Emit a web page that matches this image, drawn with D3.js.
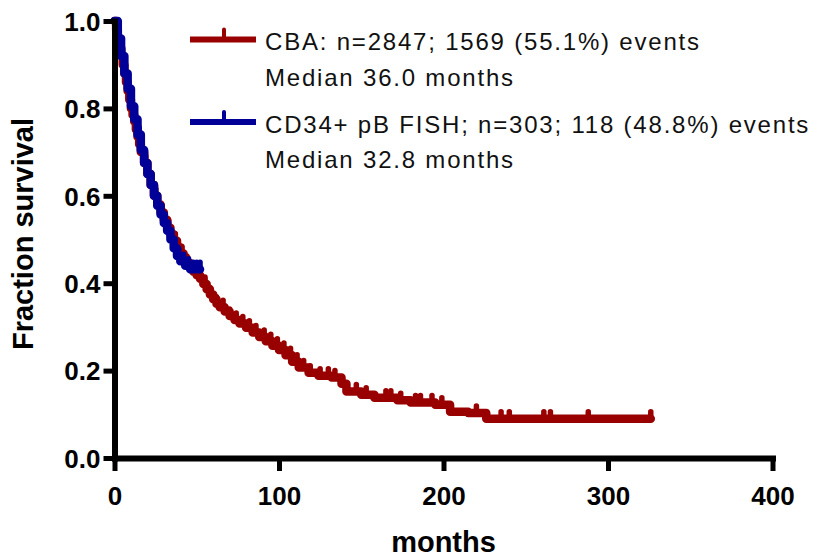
<!DOCTYPE html>
<html>
<head>
<meta charset="utf-8">
<script src="https://cdn.jsdelivr.net/npm/d3@7"></script>
<style>
  body { margin: 0; background: #fff; }
  text { font-family: Arial, "Liberation Sans", sans-serif; }
</style>
</head>
<body>
<svg width="818" height="560"></svg>
<script>
// CBA Kaplan-Meier curve (months, fraction surviving)
var cbaMonths = [0, 1, 2, 3, 4, 5, 6, 7, 8, 9, 10, 11, 12, 13, 14, 15, 16, 18, 20, 22, 24, 26, 28, 30, 32, 34, 36, 38, 40, 42, 44, 46, 48, 50, 52, 54, 56, 58, 60, 62, 64, 67, 70, 73, 76, 80, 84, 88, 92, 96, 100, 104, 108, 112, 118, 124, 132, 138, 141, 150, 158, 172, 180, 195, 204, 215, 226, 326];
var cbaSurv = [1.0, 0.98, 0.96, 0.94, 0.92, 0.9, 0.88, 0.86, 0.84, 0.82, 0.8, 0.785, 0.77, 0.752, 0.735, 0.718, 0.7, 0.675, 0.65, 0.625, 0.6, 0.58, 0.562, 0.545, 0.527, 0.512, 0.497, 0.482, 0.468, 0.456, 0.446, 0.436, 0.426, 0.418, 0.41, 0.398, 0.386, 0.374, 0.363, 0.353, 0.345, 0.335, 0.325, 0.316, 0.308, 0.298, 0.287, 0.277, 0.267, 0.257, 0.247, 0.235, 0.22, 0.207, 0.195, 0.188, 0.184, 0.17, 0.152, 0.145, 0.138, 0.132, 0.127, 0.122, 0.106, 0.103, 0.09, 0.09];
var cbaCensored = [3, 6, 9, 12, 15, 19, 22, 25, 29, 33, 37, 41, 44, 48, 51, 55, 58, 62, 66, 70, 74, 78, 82, 86, 91, 95, 99, 103, 107, 111, 115, 119, 125, 130, 134, 147, 153, 165, 168, 174, 183, 186, 193, 199, 204, 220, 226, 235, 240, 261, 265, 288, 326];

// CD34+ pB FISH curve
var fishMonths = [0, 2, 4, 6, 8, 10, 12, 14, 16, 18, 20, 22, 24, 26, 28, 30, 32, 34, 36, 38, 40, 43, 46, 52];
var fishSurv = [1.0, 0.96, 0.92, 0.88, 0.845, 0.805, 0.775, 0.74, 0.705, 0.675, 0.65, 0.625, 0.6, 0.577, 0.557, 0.538, 0.52, 0.5, 0.48, 0.462, 0.45, 0.44, 0.432, 0.432];
var fishCensored = [5, 10, 15, 20, 25, 30, 36, 39, 42, 45, 48, 50, 52];

var legendLabels = [
  ['CBA: n=2847; 1569 (55.1%) events', 'Median 36.0 months'],
  ['CD34+ pB FISH; n=303; 118 (48.8%) events', 'Median 32.8 months']
];
var xTicks = [0, 100, 200, 300, 400];
var yTicks = [0.0, 0.2, 0.4, 0.6, 0.8, 1.0];

var red = '#990000';
var blue = '#000099';

var svg = d3.select('svg');
svg.append('rect').attr('width', 818).attr('height', 560).attr('fill', '#fff');

var x = d3.scaleLinear().domain([0, 400]).range([114.5, 772.5]);
var y = d3.scaleLinear().domain([0, 1]).range([458, 21]);

var cba = cbaMonths.map((m, i) => ({ m: m, s: cbaSurv[i] }));
var fish = fishMonths.map((m, i) => ({ m: m, s: fishSurv[i] }));

var line = d3.line()
  .x(d => x(d.m))
  .y(d => y(d.s))
  .curve(d3.curveStepAfter);

function survAt(data, t) {
  var s = data[0].s;
  for (var p of data) { if (p.m <= t) s = p.s; }
  return s;
}

function drawCurve(data, censored, color) {
  var g = svg.append('g');
  g.append('path')
    .datum(data)
    .attr('d', line)
    .attr('fill', 'none')
    .attr('stroke', color)
    .attr('stroke-width', 8.5)
    .attr('stroke-linejoin', 'round')
    .attr('stroke-linecap', 'round');
  g.selectAll('line')
    .data(censored)
    .enter()
    .append('line')
      .attr('x1', d => x(d))
      .attr('x2', d => x(d))
      .attr('y1', d => y(survAt(data, d)))
      .attr('y2', d => y(survAt(data, d)) - 7)
      .attr('stroke', color)
      .attr('stroke-width', 5.5)
      .attr('stroke-linecap', 'round');
}

drawCurve(cba, cbaCensored, red);
drawCurve(fish, fishCensored, blue);

// axes
var xAxis = d3.axisBottom(x).tickValues(xTicks).tickSize(13).tickSizeOuter(0).tickFormat(d3.format('d'));
var yAxis = d3.axisLeft(y).tickValues(yTicks).tickSize(11).tickSizeOuter(0).tickFormat(d3.format('.1f'));

var gx = svg.append('g').attr('transform', 'translate(0,458)').call(xAxis);
var gy = svg.append('g').attr('transform', 'translate(114.5,0)').call(yAxis);

[gx, gy].forEach(g => {
  g.select('.domain').attr('stroke', '#000').attr('stroke-width', 6).attr('stroke-linecap', 'square');
  g.selectAll('.tick line').attr('stroke', '#000').attr('stroke-width', 5);
  g.selectAll('.tick text')
    .attr('fill', '#000')
    .style('font-size', '26px')
    .style('font-weight', 'bold')
    .style('font-family', 'Arial, "Liberation Sans", sans-serif');
});
gx.selectAll('.tick text').attr('y', 47).attr('dy', 0);
gy.selectAll('.tick text').attr('x', -14).attr('dy', '0.36em');

// axis titles
svg.append('text')
  .attr('x', x(200))
  .attr('y', 552)
  .style('text-anchor', 'middle')
  .style('font-size', '29px')
  .style('font-weight', 'bold')
  .text('months');

svg.append('text')
  .attr('transform', 'translate(33,234) rotate(-90)')
  .style('text-anchor', 'middle')
  .style('font-size', '29px')
  .style('font-weight', 'bold')
  .text('Fraction survival');

// legend
var legendColors = [red, blue];
var legendY = [39.5, 122];
legendLabels.forEach((lab, i) => {
  var g = svg.append('g').attr('transform', `translate(0,${legendY[i]})`);
  g.append('line').attr('x1', 190).attr('x2', 256).attr('y1', 0).attr('y2', 0)
    .attr('stroke', legendColors[i]).attr('stroke-width', 6);
  g.append('line').attr('x1', 224).attr('x2', 224).attr('y1', 0).attr('y2', -10)
    .attr('stroke', legendColors[i]).attr('stroke-width', 4).attr('stroke-linecap', 'round');
  g.append('text').attr('x', 265).attr('y', 10.5)
    .style('font-size', '24px').style('letter-spacing', '1.8px').attr('fill', '#111')
    .text(lab[0]);
  g.append('text').attr('x', 265).attr('y', 46)
    .style('font-size', '24px').style('letter-spacing', '1.8px').attr('fill', '#111')
    .text(lab[1]);
});
</script>
</body>
</html>
